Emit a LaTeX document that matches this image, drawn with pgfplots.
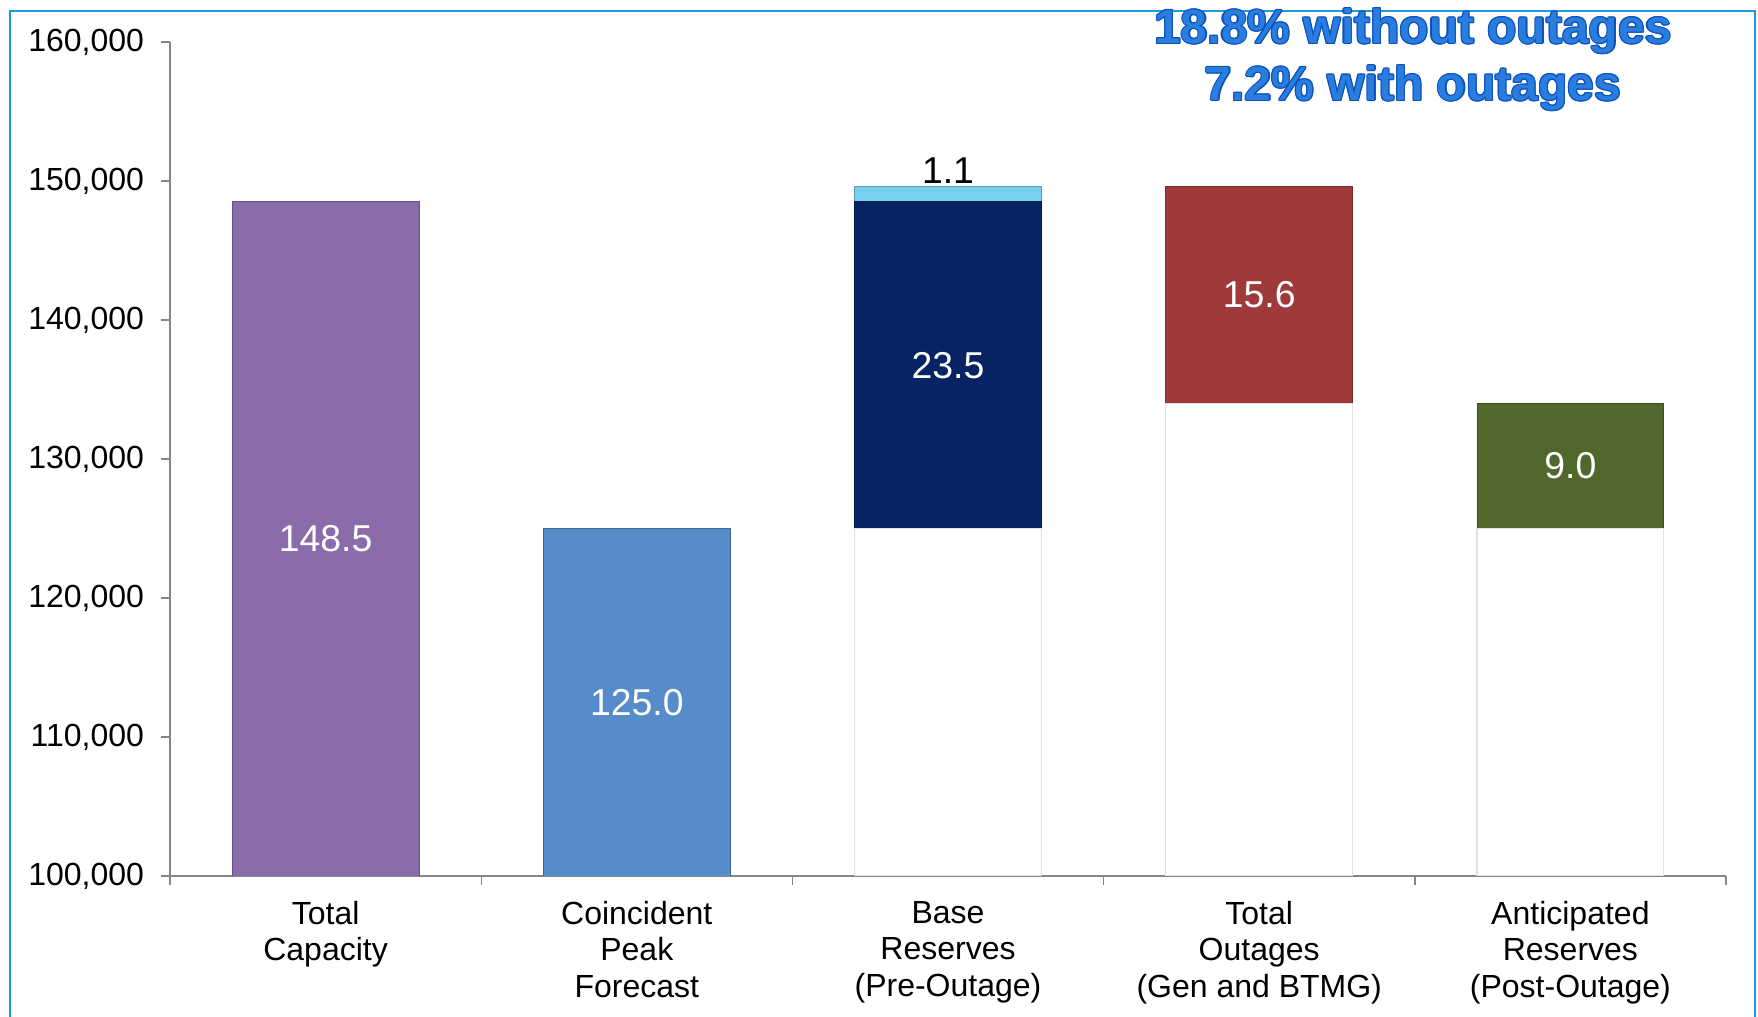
\documentclass[border=0pt]{standalone}
\usepackage{pgfplots}
\pgfplotsset{compat=1.18}
\usepackage{fontspec}
\setmainfont{Liberation Sans}
\definecolor{cPurple}{RGB}{138,108,170}
\definecolor{cBlue}{RGB}{86,140,202}
\definecolor{cNavy}{RGB}{6,35,100}
\definecolor{cCyan}{RGB}{120,208,238}
\definecolor{cRed}{RGB}{160,58,58}
\definecolor{cGreen}{RGB}{80,104,44}
\definecolor{cFrame}{RGB}{30,155,215}
\definecolor{cAxis}{RGB}{134,134,134}
\definecolor{cTitle}{RGB}{40,125,222}
\definecolor{cTitleDark}{RGB}{12,80,185}
\definecolor{cBlank}{RGB}{225,225,225}

\pgfplotsset{
  mybar/.style={ybar, bar shift=0pt, bar width=0.6, fill=#1, draw=#1!75!black, line width=0.4pt},
  blank/.style={ybar, bar shift=0pt, bar width=0.6, fill=white, draw=cBlank, line width=0.6pt},
}

\begin{document}
\begin{tikzpicture}
\draw[cFrame, line width=1.2pt] (-80pt,-72pt) -- (-80pt,432.5pt) -- (792.5pt,432.5pt) -- (792.5pt,-72pt);
\begin{axis}[
  at={(0pt,0pt)}, anchor=south west,
  scale only axis, width=778pt, height=417pt,
  xmin=-0.5, xmax=4.5, ymin=100000, ymax=160000,
  axis x line*=bottom, axis y line*=left,
  axis line style={-, cAxis, line width=0.7pt},
  tick style={cAxis, line width=0.7pt},
  tick align=outside, major tick length=4.5pt,
  ytick={100000,110000,120000,130000,140000,150000,160000},
  scaled y ticks=false,
  yticklabel style={font=\fontsize{16}{19}\selectfont, xshift=-5pt, /pgf/number format/.cd, fixed, 1000 sep={,}, assume math mode=true},
  xtick={-0.5,0.5,1.5,2.5,3.5,4.5}, xticklabels={},
  extra x ticks={0,1,2,3,4},
  extra x tick labels={Total\\Capacity, Coincident\\Peak\\Forecast, Base\\Reserves\\(Pre-Outage), Total\\Outages\\(Gen and BTMG), Anticipated\\Reserves\\(Post-Outage)},
  extra x tick style={major tick length=0pt},
  xticklabel style={font=\fontsize{16}{18.3}\selectfont, align=center, yshift=-9pt},
]
% Total Capacity
\addplot[mybar=cPurple] coordinates {(0,148500)};
% Coincident Peak Forecast
\addplot[mybar=cBlue] coordinates {(1,125000)};
% Base Reserves: 125.0 + 23.5 + 1.1
\addplot[mybar=cCyan] coordinates {(2,149600)};
\addplot[mybar=cNavy] coordinates {(2,148500)};
\addplot[blank] coordinates {(2,125000)};
% Total Outages: 15.6 on top of 134.0
\addplot[mybar=cRed] coordinates {(3,149600)};
\addplot[blank] coordinates {(3,134000)};
% Anticipated Reserves: 9.0 on top of 125.0
\addplot[mybar=cGreen] coordinates {(4,134000)};
\addplot[blank] coordinates {(4,125000)};

\node[white, font=\fontsize{18.7}{22}\selectfont] at (axis cs:0,124250) {148.5};
\node[white, font=\fontsize{18.7}{22}\selectfont] at (axis cs:1,112500) {125.0};
\node[white, font=\fontsize{18.7}{22}\selectfont] at (axis cs:2,136750) {23.5};
\node[black, font=\fontsize{18.7}{22}\selectfont] at (axis cs:2,150750) {1.1};
\node[white, font=\fontsize{18.7}{22}\selectfont] at (axis cs:3,141800) {15.6};
\node[white, font=\fontsize{18.7}{22}\selectfont] at (axis cs:4,129500) {9.0};
\end{axis}
\foreach \dx/\dy in {0.6pt/0pt,-0.6pt/0pt,0pt/0.6pt,0pt/-0.6pt,0.45pt/0.45pt,-0.45pt/0.45pt,0.45pt/-0.45pt,-0.45pt/-0.45pt}{
  \node[cTitleDark, align=center, font=\fontsize{24}{28.5}\selectfont\bfseries, xshift=\dx, yshift=\dy] at (621.5pt,408pt) {18.8\% without outages\\7.2\% with outages};
}
\node[cTitle, align=center, font=\fontsize{24}{28.5}\selectfont\bfseries] at (621.5pt,408pt) {18.8\% without outages\\7.2\% with outages};
\pgfresetboundingbox
\useasboundingbox (-85pt,-70.5pt) rectangle (794pt,438pt);
\end{tikzpicture}
\end{document}
